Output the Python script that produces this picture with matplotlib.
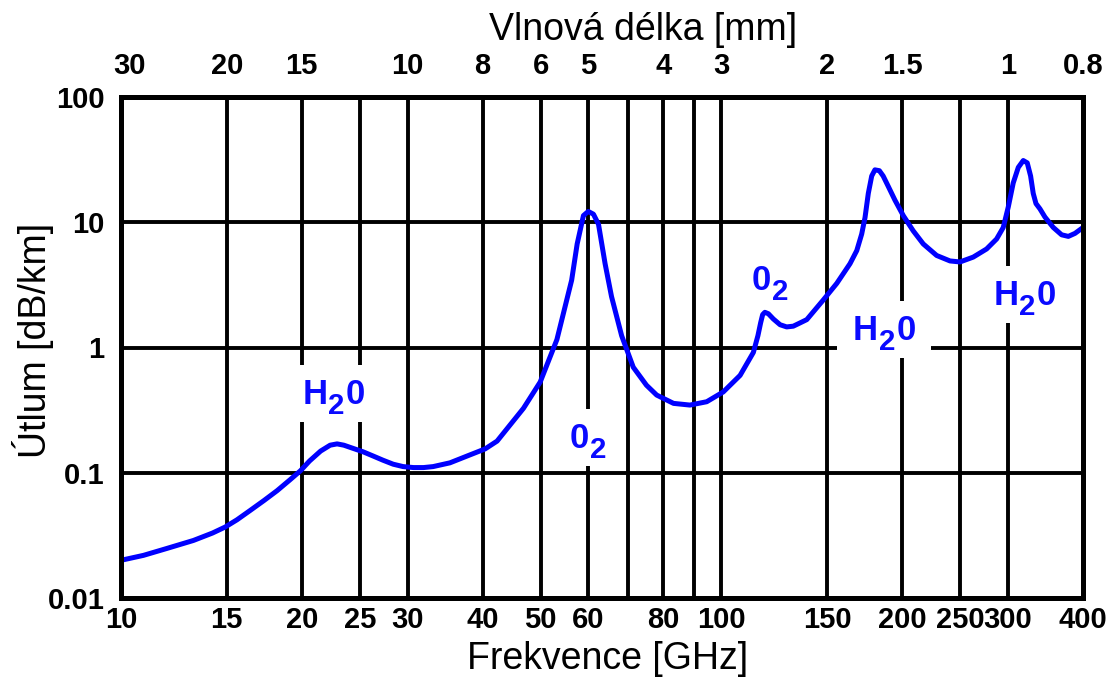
import matplotlib
matplotlib.use("Agg")
import matplotlib.pyplot as plt
from matplotlib.patches import Rectangle
from matplotlib.transforms import ScaledTranslation

plt.rcParams['font.family'] = ['Liberation Sans', 'DejaVu Sans']

# ---- data ----
freq_ghz = [10.0, 10.9, 11.9, 13.2, 14.2, 14.9, 15.6, 16.4, 17.3, 18.2, 19.1, 19.9,
            20.6, 21.5, 22.3, 22.9, 23.5, 24.4, 25.3, 26.3, 27.3, 28.4, 29.5, 30.7,
            31.9, 33.1, 35.3, 37.7, 40.4, 42.3, 46.8, 49.9, 53.2, 56.3, 57.5, 58.9,
            60.0, 61.2, 62.4, 64.0, 65.6, 68.2, 71.3, 75.0, 78.0, 83.2, 88.6, 94.5,
            100.7, 107.4, 113.0, 115.0, 116.2, 117.1, 118.1, 119.7, 122.0, 125.2,
            128.4, 131.7, 135.1, 138.7, 147.8, 155.6, 163.7, 168.0, 171.2, 173.4,
            175.6, 177.9, 180.1, 183.2, 185.9, 189.6, 194.5, 200.8, 208.6, 216.8,
            228.2, 240.2, 249.6, 262.6, 276.4, 287.2, 294.6, 300.3, 306.1, 312.1,
            318.1, 323.0, 327.2, 330.5, 334.0, 339.1, 345.7, 356.9, 368.5, 378.1,
            387.9, 400.0]
atten_db_km = [0.0200, 0.0219, 0.0248, 0.0288, 0.033, 0.0368, 0.0421, 0.0499, 0.060,
               0.072, 0.0875, 0.1037, 0.124, 0.149, 0.166, 0.170, 0.166, 0.156, 0.147,
               0.136, 0.126, 0.117, 0.112, 0.110, 0.110, 0.112, 0.120, 0.136, 0.155,
               0.179, 0.327, 0.53, 1.156, 3.45, 6.71, 11.3, 12.2, 11.6, 9.64, 4.67,
               2.55, 1.24, 0.696, 0.50, 0.417, 0.358, 0.347, 0.369, 0.442, 0.599,
               0.913, 1.243, 1.574, 1.83, 1.91, 1.86, 1.69, 1.52, 1.46, 1.48, 1.57,
               1.67, 2.40, 3.25, 4.67, 5.94, 8.05, 10.9, 17.0, 23.4, 26.2, 25.8, 23.4,
               19.3, 15.0, 11.3, 8.54, 6.71, 5.43, 4.91, 4.82, 5.27, 6.12, 7.35, 9.08,
               13.2, 20.6, 27.4, 31.1, 29.8, 23.4, 17.0, 14.1, 12.8, 11.0, 9.09, 7.94,
               7.71, 8.15, 9.08]

grid_freqs = [15, 20, 25, 30, 40, 50, 60, 70, 80, 90, 100, 150, 200, 250, 300]
grid_atten = [0.1, 1, 10]

bottom_ticks = [10, 15, 20, 25, 30, 40, 50, 60, 80, 100, 150, 200, 250, 300, 400]
bottom_labels = ['10', '15', '20', '25', '30', '40', '50', '60', '80', '100',
                 '150', '200', '250', '300', '400']
top_ticks = [10.35, 15, 20, 30, 40, 50, 60, 80, 100, 150, 200, 300, 400]
top_labels = ['30', '20', '15', '10', '8', '6', '5', '4', '3', '2', '1.5', '1', '0.8']
y_ticks = [0.01, 0.1, 1, 10, 100]
y_labels = ['0.01', '0.1', '1', '10', '100']

# absorption line labels: (character, is_subscript) pieces
line_labels = [[('H', False), ('2', True), ('0', False)],
               [('0', False), ('2', True)],
               [('0', False), ('2', True)],
               [('H', False), ('2', True), ('0', False)],
               [('H', False), ('2', True), ('0', False)]]
line_label_x = [22.6, 60.0, 120.5, 186.5, 320.0]
line_label_y = [0.356, 0.157, 2.86, 1.156, 2.18]

# ---- figure ----
W, H = 1113, 677
fig = plt.figure(figsize=(W / 100, H / 100), dpi=100)
ax = fig.add_axes([121 / W, 1 - 598 / H, 962 / W, 501 / H])
ax.set_xscale('log')
ax.set_yscale('log')
ax.set_xlim(10, 400)
ax.set_ylim(0.01, 100)

for f in grid_freqs:
    ax.axvline(f, color='black', lw=2.8, zorder=1)
for a in grid_atten:
    ax.axhline(a, color='black', lw=2.8, zorder=1)

ax.plot(freq_ghz, atten_db_km, color='#0000ff', lw=3.6, zorder=4,
        solid_joinstyle='round', solid_capstyle='round')

# chemical labels with subscript, drawn piece by piece on a white patch
ADV = {'H': 0.722, '0': 0.556, '2': 0.556}
LBL_SIZE = 25.0
SUB_SCALE = 0.85
SUB_DROP = 0.29
GAP = 0.03
BOX_PAD_X = 11.0   # points
BOX_TOP = 28.0     # points above baseline
BOX_BOTTOM = 13.0  # points below baseline
LBL_COLOR = '#0a0aff'
for parts, x, y in zip(line_labels, line_label_x, line_label_y):
    widths = [ADV[c] * (SUB_SCALE if s else 1.0) * LBL_SIZE for c, s in parts]
    total = sum(widths) + GAP * LBL_SIZE * (len(parts) - 1)
    trans = fig.dpi_scale_trans + ScaledTranslation(x, y, ax.transData)
    bw = (total + 2 * BOX_PAD_X) / 72.0
    bh = (BOX_TOP + BOX_BOTTOM) / 72.0
    ax.add_patch(Rectangle((-bw / 2, -BOX_BOTTOM / 72.0), bw, bh, transform=trans,
                           facecolor='white', edgecolor='none', zorder=3,
                           clip_on=False))
    xo = -total / 2
    for (c, s), w in zip(parts, widths):
        ax.annotate(c, xy=(x, y), xycoords='data',
                    xytext=(xo, -SUB_DROP * LBL_SIZE if s else 0),
                    textcoords='offset points', ha='left', va='baseline',
                    fontsize=LBL_SIZE * (SUB_SCALE if s else 1.0),
                    fontweight='bold', color=LBL_COLOR, zorder=3.5)
        xo += w + GAP * LBL_SIZE

ax.set_xticks(bottom_ticks)
ax.set_xticklabels(bottom_labels)
ax.set_yticks(y_ticks)
ax.set_yticklabels(y_labels)
ax.minorticks_off()
ax.tick_params(axis='both', length=0, labelsize=21)
ax.tick_params(axis='x', pad=6)
ax.tick_params(axis='y', pad=12)
for lab in ax.get_xticklabels() + ax.get_yticklabels():
    lab.set_fontweight('bold')

for s in ax.spines.values():
    s.set_linewidth(3.6)
    s.set_zorder(5)

ax2 = ax.twiny()
ax2.set_xscale('log')
ax2.set_xlim(10, 400)
ax2.set_xticks(top_ticks)
ax2.set_xticklabels(top_labels)
ax2.minorticks_off()
ax2.tick_params(axis='x', length=0, labelsize=21, pad=12)
for lab in ax2.get_xticklabels():
    lab.set_fontweight('bold')
for s in ax2.spines.values():
    s.set_visible(False)

fig.text(643 / W, 1 - 30 / H, 'Vlnová délka [mm]', fontsize=27, ha='center', va='center')
fig.text(608 / W, 1 - 659 / H, 'Frekvence [GHz]', fontsize=27, ha='center', va='center')
fig.text(33 / W, 1 - 340 / H, 'Útlum [dB/km]', fontsize=27, ha='center', va='center',
         rotation=90)

fig.savefig('out.png', dpi=100)
